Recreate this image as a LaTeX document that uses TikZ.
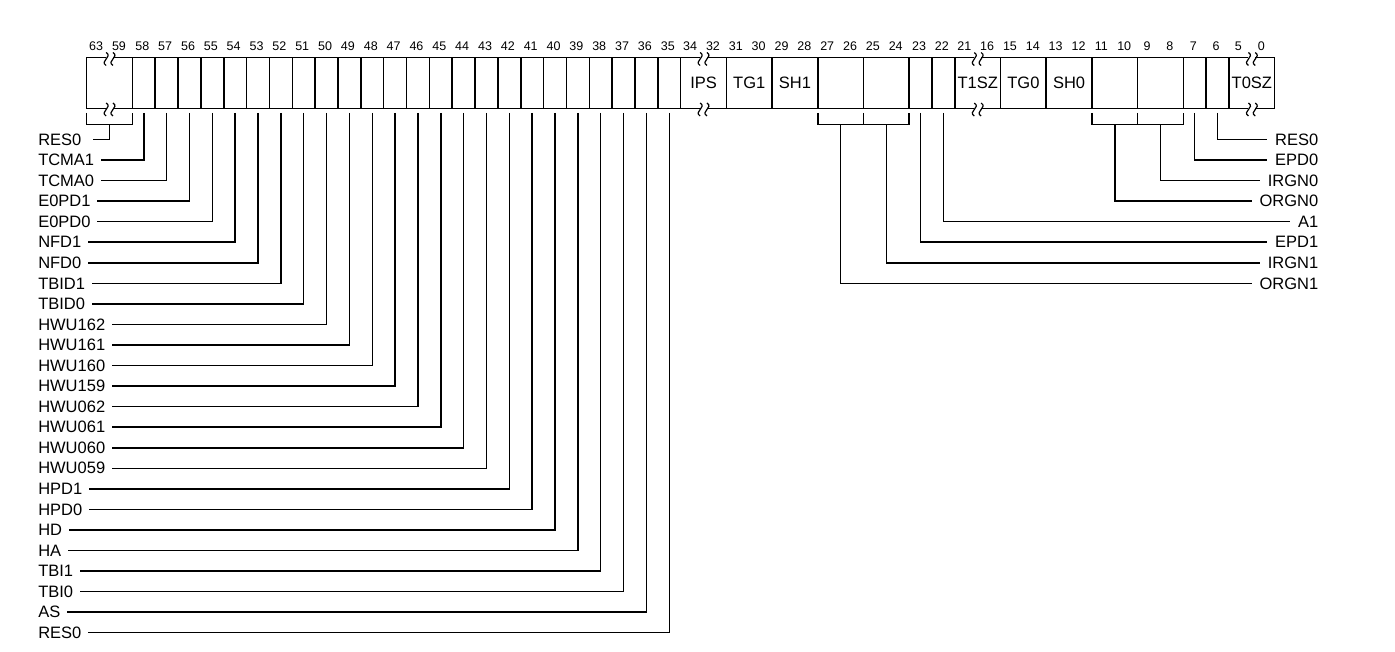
\documentclass[tikz,border=0pt]{standalone}
\usepackage{fontspec}
\setmainfont{Liberation Sans}
\begin{document}
\begin{tikzpicture}[x=1pt,y=-1pt,line width=1.5pt,
  field/.style={draw,rectangle,minimum height=51pt,inner sep=0pt,outer sep=0pt,font=\fontsize{16.5}{18}\selectfont},
  num/.style={inner sep=0pt,font=\fontsize{12.5}{14}\selectfont},
  llbl/.style={anchor=west,inner xsep=6pt,inner ysep=0pt,font=\fontsize{16.5}{18}\selectfont},
  rlbl/.style={anchor=east,inner xsep=7pt,inner ysep=0pt,font=\fontsize{16.5}{18}\selectfont},
  squig/.style={line width=1.2pt}]
\useasboundingbox (0,0) rectangle (1395,652);
\newcommand\twofield[5]{%
  \node[field,minimum width=45.692pt] (#1) at ({86.7+(#2+1)*22.846},83) {#3};
  \node[num] (#1L) at ({86.7+(#2+0.5)*22.846-2},46.5) {#4};
  \node[num] (#1R) at ({86.7+(#2+1.5)*22.846-2},46.5) {#5};}
\newcommand\onefield[2]{%
  \node[field,minimum width=22.846pt] (f#1) at ({86.7+(#2+0.5)*22.846},83) {};
  \node[num] (n#1) at ({86.7+(#2+0.5)*22.846-1.5},46.5) {#1};}
\newcommand\squiggle[1]{%
  \fill[white] ([xshift=-3.4pt,yshift=-1.8pt]#1.north) rectangle ([xshift=3.4pt,yshift=1.8pt]#1.north);
  \fill[white] ([xshift=-3.4pt,yshift=-1.8pt]#1.south) rectangle ([xshift=3.4pt,yshift=1.8pt]#1.south);
  \foreach \d in {-3.4,3.4}{%
    \draw[squig] ([xshift=\d pt,yshift=5pt]#1.north) .. controls +(7pt,-4.5pt) and +(-7pt,4.5pt) .. ([xshift=\d pt,yshift=-8pt]#1.north);
    \draw[squig] ([xshift=\d pt,yshift=5.5pt]#1.south) .. controls +(7pt,-4.5pt) and +(-7pt,4.5pt) .. ([xshift=\d pt,yshift=-7.5pt]#1.south);}}
\newcommand\regbracket[1]{%
  \draw ([yshift=-4.5pt]#1.south west) |- ([yshift=-16pt]#1.south) -| ([yshift=-4.5pt]#1.south east);}
% fields
\twofield{fA}{0}{}{63}{59}
\foreach \b in {58,57,...,35}{\pgfmathtruncatemacro\s{60-\b}\onefield{\b}{\s}}
\twofield{fIPS}{26}{IPS}{34}{32}
\twofield{fTGa}{28}{TG1}{31}{30}
\twofield{fSHa}{30}{SH1}{29}{28}
\twofield{fB}{32}{}{27}{26}
\twofield{fC}{34}{}{25}{24}
\onefield{23}{36}
\onefield{22}{37}
\twofield{fTaSZ}{38}{T1SZ}{21}{16}
\twofield{fTGb}{40}{TG0}{15}{14}
\twofield{fSHb}{42}{SH0}{13}{12}
\twofield{fD}{44}{}{11}{10}
\twofield{fE}{46}{}{9}{8}
\onefield{7}{48}
\onefield{6}{49}
\twofield{fTbSZ}{50}{T0SZ}{5}{0}
\squiggle{fA}
\squiggle{fIPS}
\squiggle{fTaSZ}
\squiggle{fTbSZ}
\regbracket{fA}
\regbracket{fB}
\regbracket{fC}
\regbracket{fD}
\regbracket{fE}
% left labels
\node[llbl] (L0) at (31.5,139.5) {RES0};
\foreach \i/\t in {1/TCMA1,2/TCMA0,3/E0PD1,4/E0PD0,5/NFD1,6/NFD0,7/TBID1,8/TBID0,9/HWU162,10/HWU161,11/HWU160,12/HWU159,13/HWU062,14/HWU061,15/HWU060,16/HWU059,17/HPD1,18/HPD0,19/HD,20/HA,21/TBI1,22/TBI0,23/AS,24/RES0}{%
  \pgfmathtruncatemacro\b{59-\i}
  \node[llbl] (L\i) at (31.5,{139.5+20.55*\i}) {\t};
  \draw ([yshift=-4.5pt]f\b.south) |- (L\i);}
\draw ([yshift=-16pt]fA.south) |- ([xshift=5pt]L0.east);
% right labels
\foreach \j/\t in {0/RES0,1/EPD0,2/IRGN0,3/ORGN0,4/A1,5/EPD1,6/IRGN1,7/ORGN1}{%
  \node[rlbl] (R\j) at (1326,{139.5+20.55*\j}) {\t};}
\draw ([yshift=-4.5pt]f6.south) |- (R0);
\draw ([yshift=-4.5pt]f7.south) |- (R1);
\draw ([yshift=-16pt]fE.south) |- (R2);
\draw ([yshift=-16pt]fD.south) |- (R3);
\draw ([yshift=-4.5pt]f22.south) |- (R4);
\draw ([yshift=-4.5pt]f23.south) |- (R5);
\draw ([yshift=-16pt]fC.south) |- (R6);
\draw ([yshift=-16pt]fB.south) |- (R7);
\end{tikzpicture}
\end{document}
